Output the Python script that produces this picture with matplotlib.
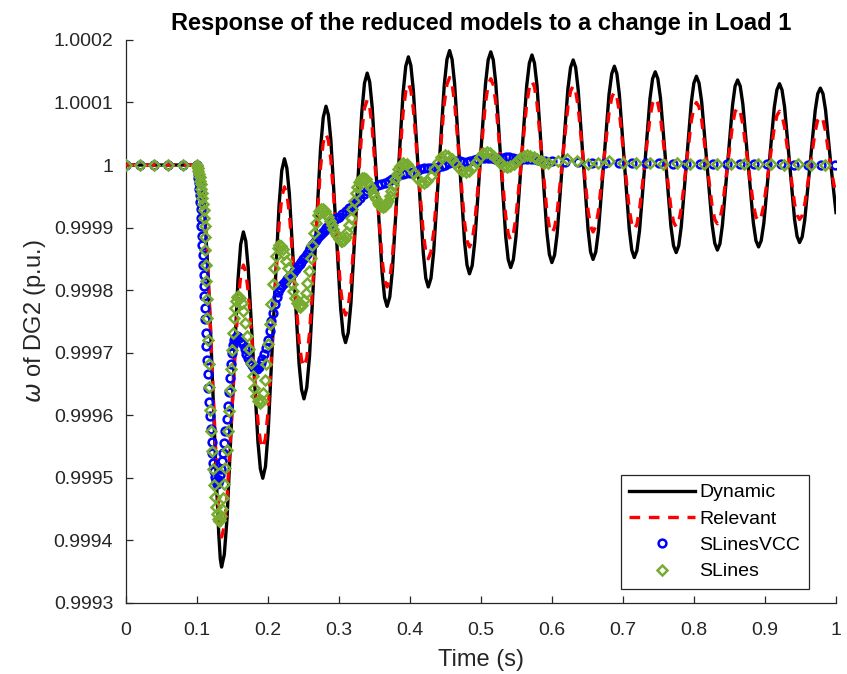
import matplotlib.pyplot as plt

plt.rcParams['font.family'] = ['Liberation Sans', 'DejaVu Sans']
plt.rcParams['mathtext.fontset'] = 'dejavusans'

# time grid shared by the two continuous curves
t_line = [
    0.0, 0.1, 0.1035, 0.108, 0.1114, 0.1155, 0.1193, 0.123, 0.1271, 0.131, 0.1332, 0.135,
    0.1388, 0.1427, 0.1504, 0.158, 0.1619, 0.1657,
    0.1691, 0.1725, 0.1794, 0.1862, 0.1896, 0.193,
    0.1968, 0.2006, 0.2083, 0.2159, 0.2197, 0.2235,
    0.2269, 0.2304, 0.2373, 0.2441, 0.2476, 0.251,
    0.2549, 0.2588, 0.2665, 0.2743, 0.2781, 0.282,
    0.2854, 0.2889, 0.2958, 0.3026, 0.3061, 0.3095,
    0.3133, 0.3171, 0.3248, 0.3324, 0.3362, 0.340,
    0.3435, 0.347, 0.354, 0.361, 0.3645, 0.368,
    0.3718, 0.3755, 0.383, 0.3905, 0.3943, 0.398,
    0.4015, 0.405, 0.412, 0.419, 0.4225, 0.426,
    0.4298, 0.4335, 0.441, 0.4485, 0.4523, 0.456,
    0.4595, 0.463, 0.470, 0.477, 0.4805, 0.484,
    0.4878, 0.4915, 0.499, 0.5065, 0.5103, 0.514,
    0.5175, 0.521, 0.528, 0.535, 0.5385, 0.542,
    0.5458, 0.5495, 0.557, 0.5645, 0.5683, 0.572,
    0.5755, 0.579, 0.586, 0.593, 0.5965, 0.600,
    0.6038, 0.6075, 0.615, 0.6225, 0.6263, 0.630,
    0.6335, 0.637, 0.644, 0.651, 0.6545, 0.658,
    0.6618, 0.6655, 0.673, 0.6805, 0.6843, 0.688,
    0.6915, 0.695, 0.702, 0.709, 0.7125, 0.716,
    0.7197, 0.7234, 0.7308, 0.7381, 0.7418, 0.7455,
    0.7492, 0.7529, 0.7603, 0.7676, 0.7713, 0.775,
    0.7786, 0.7821, 0.7893, 0.7964, 0.7999, 0.8035,
    0.8072, 0.8109, 0.8183, 0.8256, 0.8293, 0.833,
    0.8366, 0.8401, 0.8473, 0.8544, 0.8579, 0.8615,
    0.8652, 0.8689, 0.8763, 0.8836, 0.8873, 0.891,
    0.8947, 0.8984, 0.9058, 0.9131, 0.9168, 0.9205,
    0.924, 0.9276, 0.9346, 0.9417, 0.9452, 0.9487,
    0.9524, 0.956, 0.9634, 0.9707, 0.9743, 0.978,
    0.9817, 0.9853, 0.9926, 1.0,
]

w_dynamic = [
    1.0, 1.0, 1.0, 0.99998, 0.99992, 0.999835, 0.99974, 0.99963, 0.99951, 0.99941, 0.99937, 0.999357,
    0.999377, 0.999435, 0.999625, 0.999815, 0.999873, 0.999893,
    0.999878, 0.999835, 0.999696, 0.999557, 0.999514, 0.999499,
    0.999518, 0.999574, 0.999754, 0.999935, 0.999991, 1.00001,
    0.999995, 0.999954, 0.999818, 0.999682, 0.999641, 0.999626,
    0.999644, 0.999694, 0.99986, 1.000026, 1.000076, 1.000094,
    1.00008, 1.000039, 0.999905, 0.999771, 0.99973, 0.999716,
    0.999732, 0.999779, 0.999931, 1.000084, 1.000131, 1.000147,
    1.000133, 1.000093, 0.99996, 0.999828, 0.999788, 0.999774,
    0.999789, 0.999832, 0.999973, 1.000115, 1.000158, 1.000173,
    1.000159, 1.000119, 0.999989, 0.999859, 0.999819, 0.999805,
    0.999819, 0.99986, 0.999994, 1.000128, 1.000169, 1.000183,
    1.000169, 1.000131, 1.000004, 0.999878, 0.99984, 0.999826,
    0.999839, 0.999878, 1.000004, 1.000129, 1.000168, 1.000181,
    1.000168, 1.000131, 1.000008, 0.999886, 0.999849, 0.999836,
    0.999849, 0.999886, 1.000006, 1.000126, 1.000163, 1.000176,
    1.000163, 1.000128, 1.00001, 0.999892, 0.999857, 0.999844,
    0.999856, 0.999891, 1.000006, 1.000121, 1.000156, 1.000168,
    1.000156, 1.000121, 1.000008, 0.999896, 0.999861, 0.999849,
    0.999861, 0.999894, 1.000004, 1.000113, 1.000146, 1.000158,
    1.000146, 1.000113, 1.000005, 0.999897, 0.999864, 0.999852,
    0.999863, 0.999895, 1.0, 1.000106, 1.000138, 1.000149,
    1.000138, 1.000107, 1.000004, 0.999902, 0.999871, 0.99986,
    0.999871, 0.999901, 1.000001, 1.000101, 1.000131, 1.000142,
    1.000131, 1.000101, 1.000003, 0.999905, 0.999875, 0.999864,
    0.999874, 0.999904, 1.0, 1.000096, 1.000126, 1.000136,
    1.000126, 1.000097, 1.000002, 0.999908, 0.999879, 0.999869,
    0.999879, 0.999907, 1.0, 1.000092, 1.00012, 1.00013,
    1.00012, 1.000093, 1.000003, 0.999913, 0.999886, 0.999876,
    0.999885, 0.999912, 1.0, 1.000087, 1.000114, 1.000123,
    1.000114, 1.000088, 1.000002, 0.999924,
]

w_relevant = [
    1.0, 1.0, 1.0, 0.99998, 0.99992, 0.999835, 0.999742, 0.99964, 0.999535, 0.99945, 0.999418, 0.999405,
    0.999422, 0.999469, 0.999622, 0.999776, 0.999823, 0.99984,
    0.999829, 0.999797, 0.999694, 0.99959, 0.999558, 0.999547,
    0.999563, 0.999608, 0.999756, 0.999904, 0.999949, 0.999965,
    0.999954, 0.999923, 0.999821, 0.999719, 0.999688, 0.999677,
    0.999691, 0.999731, 0.999863, 0.999996, 1.000036, 1.00005,
    1.000039, 1.000008, 0.999905, 0.999802, 0.999771, 0.99976,
    0.999773, 0.99981, 0.999932, 1.000054, 1.000091, 1.000104,
    1.000093, 1.00006, 0.999954, 0.999849, 0.999816, 0.999805,
    0.999817, 0.999852, 0.999968, 1.000083, 1.000118, 1.00013,
    1.000119, 1.000089, 0.99999, 0.999891, 0.999861, 0.99985,
    0.999861, 0.999892, 0.999995, 1.000098, 1.000129, 1.00014,
    1.00013, 1.0001, 1.000004, 0.999909, 0.999879, 0.999869,
    0.999879, 0.999908, 1.000004, 1.000099, 1.000128, 1.000138,
    1.000128, 1.0001, 1.000009, 0.999918, 0.99989, 0.99988,
    0.99989, 0.999917, 1.000007, 1.000097, 1.000124, 1.000134,
    1.000125, 1.000099, 1.000012, 0.999926, 0.9999, 0.999891,
    0.9999, 0.999925, 1.000009, 1.000093, 1.000118, 1.000127,
    1.000118, 1.000093, 1.00001, 0.999927, 0.999902, 0.999893,
    0.999902, 0.999926, 1.000005, 1.000084, 1.000108, 1.000117,
    1.000109, 1.000085, 1.000007, 0.999929, 0.999905, 0.999897,
    0.999905, 0.999928, 1.000002, 1.000076, 1.000099, 1.000107,
    1.000099, 1.000077, 1.000004, 0.999931, 0.999909, 0.999901,
    0.999909, 0.99993, 1.0, 1.000071, 1.000092, 1.0001,
    1.000093, 1.000072, 1.000003, 0.999934, 0.999913, 0.999906,
    0.999913, 0.999933, 0.999999, 1.000065, 1.000085, 1.000092,
    1.000085, 1.000065, 1.000001, 0.999937, 0.999917, 0.99991,
    0.999917, 0.999936, 0.999998, 1.00006, 1.000079, 1.000086,
    1.000079, 1.000061, 1.0, 0.999938, 0.99992, 0.999913,
    0.999919, 0.999937, 0.999996, 1.000054, 1.000072, 1.000078,
    1.000072, 1.000054, 0.999996, 0.999952,
]

# solver output points of the reduced models (time, omega)
slinesvcc_pts = [
    (0.0, 1.0), (0.02, 1.0), (0.04, 1.0), (0.06, 1.0), (0.08, 1.0),
    (0.1, 1.0), (0.1006, 0.999997), (0.1012, 0.999992), (0.1018, 0.999986),
    (0.1024, 0.999979), (0.103, 0.999971), (0.1036, 0.999962), (0.1042, 0.999952),
    (0.1048, 0.999941), (0.1054, 0.999929), (0.106, 0.999916), (0.1066, 0.999902),
    (0.1072, 0.999887), (0.1078, 0.999872), (0.1084, 0.999856), (0.109, 0.99984),
    (0.1096, 0.999824), (0.1102, 0.999807), (0.1108, 0.99979), (0.1114, 0.999772),
    (0.112, 0.999754), (0.1128, 0.999732), (0.1136, 0.99971), (0.1145, 0.999688),
    (0.1155, 0.999665), (0.1165, 0.999643), (0.1175, 0.999621), (0.1186, 0.999599),
    (0.1198, 0.999577), (0.121, 0.999557), (0.1222, 0.999539), (0.1234, 0.999524),
    (0.1246, 0.999511), (0.1258, 0.999501), (0.127, 0.999494), (0.1285, 0.99949),
    (0.13, 0.999491), (0.1315, 0.999496), (0.133, 0.999504), (0.1345, 0.999514),
    (0.136, 0.999526), (0.1375, 0.99954), (0.139, 0.999556), (0.1405, 0.999574),
    (0.142, 0.999594), (0.1435, 0.999615), (0.145, 0.999637), (0.1465, 0.99966),
    (0.148, 0.999682), (0.1495, 0.9997), (0.151, 0.999712), (0.1525, 0.99972),
    (0.154, 0.999724), (0.156, 0.999726), (0.158, 0.999725),
    (0.16, 0.999724), (0.1625, 0.999719), (0.165, 0.999713), (0.1675, 0.999706),
    (0.17, 0.999698), (0.1725, 0.999691), (0.175, 0.999685), (0.1775, 0.99968),
    (0.18, 0.999676), (0.1825, 0.999674), (0.185, 0.999674), (0.1875, 0.999677),
    (0.19, 0.999683), (0.1925, 0.99969), (0.195, 0.999698), (0.1975, 0.999708),
    (0.2, 0.99972), (0.2025, 0.999734), (0.205, 0.99975), (0.2075, 0.999764),
    (0.21, 0.999778), (0.2125, 0.999789), (0.215, 0.999797), (0.2175, 0.999803),
    (0.22, 0.999808), (0.2225, 0.999812), (0.225, 0.999815), (0.2275, 0.999818),
    (0.23, 0.999821), (0.2325, 0.999824), (0.235, 0.999827), (0.2375, 0.99983),
    (0.24, 0.999834), (0.2425, 0.999838), (0.245, 0.999842), (0.2475, 0.999845),
    (0.25, 0.999849), (0.2525, 0.999853), (0.255, 0.999857), (0.2575, 0.999862),
    (0.26, 0.999867), (0.2625, 0.999872), (0.265, 0.999876), (0.2675, 0.99988),
    (0.27, 0.999884), (0.2725, 0.999887), (0.275, 0.99989), (0.2775, 0.999893),
    (0.28, 0.999896), (0.2825, 0.999899), (0.285, 0.999902), (0.2875, 0.999905),
    (0.29, 0.999908), (0.2925, 0.999911), (0.295, 0.999913), (0.2975, 0.999915),
    (0.3, 0.999917), (0.305, 0.999921), (0.31, 0.999926), (0.315, 0.999931),
    (0.32, 0.999936), (0.325, 0.999942), (0.33, 0.999948), (0.335, 0.999953),
    (0.34, 0.999958), (0.345, 0.999962), (0.35, 0.999965), (0.355, 0.999968),
    (0.36, 0.99997), (0.365, 0.999972), (0.37, 0.999975), (0.375, 0.999978),
    (0.38, 0.999981), (0.385, 0.999984), (0.39, 0.999986), (0.395, 0.999987),
    (0.4, 0.999988), (0.405, 0.999989), (0.41, 0.999991), (0.415, 0.999993),
    (0.42, 0.999995), (0.425, 0.999996), (0.43, 0.999996), (0.435, 0.999996),
    (0.44, 0.999997), (0.445, 0.999998), (0.45, 1.0), (0.455, 1.000003),
    (0.46, 1.000005), (0.465, 1.000006), (0.47, 1.000006), (0.475, 1.000005),
    (0.48, 1.000005), (0.485, 1.000006), (0.49, 1.000008), (0.495, 1.00001),
    (0.5, 1.000011), (0.505, 1.000012), (0.51, 1.000012), (0.515, 1.000011),
    (0.52, 1.00001), (0.525, 1.000011), (0.53, 1.000012), (0.535, 1.000013),
    (0.54, 1.000013), (0.545, 1.000012), (0.55, 1.00001), (0.555, 1.000009),
    (0.56, 1.000009), (0.565, 1.00001), (0.57, 1.00001), (0.575, 1.000009),
    (0.58, 1.000008), (0.59, 1.000007), (0.6, 1.000006),
    (0.618, 1.000005), (0.637, 1.000005), (0.656, 1.000004), (0.675, 1.000004),
    (0.694, 1.000004), (0.713, 1.000003), (0.732, 1.000003), (0.751, 1.000003),
    (0.77, 1.000002), (0.789, 1.000002), (0.808, 1.000002), (0.827, 1.000002),
    (0.846, 1.000001), (0.865, 1.000001), (0.884, 1.000001), (0.903, 1.000001),
    (0.922, 1.000001), (0.941, 1.0), (0.96, 1.0), (0.979, 1.0), (0.998, 1.0),
]

slines_pts = [
    (0.0, 1.0), (0.02, 1.0), (0.04, 1.0), (0.06, 1.0), (0.08, 1.0),
    (0.1, 1.0), (0.1008, 0.999998), (0.1016, 0.999995), (0.1024, 0.999991),
    (0.1032, 0.999986), (0.104, 0.999981), (0.1048, 0.999975), (0.1056, 0.999969),
    (0.1064, 0.999962), (0.1072, 0.999955), (0.108, 0.999947), (0.1088, 0.999938),
    (0.1096, 0.999928), (0.1104, 0.999916), (0.111, 0.999902), (0.1116, 0.999885),
    (0.1122, 0.999864), (0.1128, 0.99984), (0.1134, 0.999814), (0.114, 0.999786),
    (0.1148, 0.999755), (0.1158, 0.99972), (0.1168, 0.999682), (0.1178, 0.999645),
    (0.119, 0.999608), (0.1202, 0.999575), (0.1215, 0.999542), (0.1228, 0.999514),
    (0.1242, 0.999489), (0.1256, 0.999469), (0.127, 0.999453), (0.1285, 0.999442),
    (0.13, 0.999434), (0.1315, 0.999431), (0.133, 0.999432), (0.1345, 0.999438),
    (0.136, 0.99945), (0.1375, 0.999468), (0.139, 0.99949), (0.1405, 0.999516),
    (0.142, 0.999545), (0.1435, 0.999575), (0.145, 0.999607), (0.1465, 0.99964),
    (0.148, 0.999673), (0.1495, 0.999704), (0.151, 0.999732), (0.1525, 0.999755),
    (0.154, 0.999772), (0.1555, 0.999783), (0.157, 0.999789), (0.158, 0.999791),
    (0.1606, 0.999788), (0.1632, 0.99978), (0.1657, 0.999766), (0.1683, 0.999748),
    (0.1709, 0.999727), (0.1735, 0.999705), (0.1761, 0.999683), (0.1787, 0.999662),
    (0.1812, 0.999644), (0.1838, 0.99963), (0.1864, 0.999622), (0.189, 0.999619),
    (0.1913, 0.999623), (0.1935, 0.999636), (0.1958, 0.999656), (0.198, 0.999682),
    (0.2003, 0.999713), (0.2025, 0.999746), (0.2048, 0.999778), (0.207, 0.999809),
    (0.2093, 0.999835), (0.2115, 0.999855), (0.2138, 0.999868), (0.216, 0.999872),
    (0.2185, 0.99987), (0.221, 0.999865), (0.2235, 0.999858), (0.226, 0.999847),
    (0.2285, 0.999835), (0.231, 0.999822), (0.2335, 0.99981), (0.236, 0.999798),
    (0.2385, 0.999788), (0.241, 0.99978), (0.2435, 0.999775), (0.246, 0.999773),
    (0.2484, 0.999776), (0.2508, 0.999784), (0.2533, 0.999796), (0.2557, 0.999812),
    (0.2581, 0.999831), (0.2605, 0.999852), (0.2629, 0.999872), (0.2653, 0.999891),
    (0.2678, 0.999907), (0.2702, 0.99992), (0.2726, 0.999927), (0.275, 0.99993),
    (0.2775, 0.999929), (0.28, 0.999927), (0.2825, 0.999922), (0.285, 0.999917),
    (0.2875, 0.999911), (0.29, 0.999904), (0.2925, 0.999897), (0.295, 0.999891),
    (0.2975, 0.999886), (0.3, 0.999882), (0.3025, 0.999879), (0.305, 0.999878),
    (0.3073, 0.99988), (0.3097, 0.999885), (0.312, 0.999893), (0.3143, 0.999904),
    (0.3167, 0.999916), (0.319, 0.999929), (0.3213, 0.999942), (0.3237, 0.999955),
    (0.326, 0.999965), (0.3283, 0.999973), (0.3307, 0.999978), (0.333, 0.99998),
    (0.3354, 0.999979), (0.3378, 0.999977), (0.3403, 0.999973), (0.3427, 0.999968),
    (0.3451, 0.999963), (0.3475, 0.999956), (0.3499, 0.99995), (0.3523, 0.999945),
    (0.3548, 0.99994), (0.3572, 0.999936), (0.3596, 0.999934), (0.362, 0.999933),
    (0.3644, 0.999934), (0.3668, 0.999938), (0.3693, 0.999943), (0.3717, 0.99995),
    (0.3741, 0.999959), (0.3765, 0.999968), (0.3789, 0.999977), (0.3813, 0.999985),
    (0.3838, 0.999993), (0.3862, 0.999998), (0.3886, 1.000002), (0.391, 1.000003),
    (0.3958, 1.000001), (0.4007, 0.999995), (0.4055, 0.999987), (0.4103, 0.999979),
    (0.4152, 0.999973), (0.42, 0.999971),
    (0.4248, 0.999974), (0.4297, 0.999982), (0.4345, 0.999993), (0.4393, 1.000005),
    (0.4442, 1.000013), (0.449, 1.000016),
    (0.454, 1.000014), (0.459, 1.000009), (0.464, 1.000003), (0.469, 0.999996),
    (0.474, 0.999991), (0.479, 0.999989),
    (0.4838, 0.999991), (0.4887, 0.999997), (0.4935, 1.000005), (0.4983, 1.000013),
    (0.5032, 1.000019), (0.508, 1.000021),
    (0.5128, 1.000019), (0.5177, 1.000015), (0.5225, 1.000009), (0.5273, 1.000003),
    (0.5322, 0.999999), (0.537, 0.999997),
    (0.5417, 0.999998), (0.5463, 1.000002), (0.551, 1.000007), (0.5557, 1.000011),
    (0.5603, 1.000015), (0.565, 1.000016),
    (0.5698, 1.000015), (0.5747, 1.000013), (0.5795, 1.00001), (0.5843, 1.000006),
    (0.5892, 1.000004), (0.594, 1.000003),
    (0.608, 1.000006), (0.622, 1.00001), (0.636, 1.000006), (0.651, 1.000002),
    (0.665, 1.000004), (0.68, 1.000007), (0.6995, 1.000004), (0.7185, 1.000003),
    (0.7375, 1.000004), (0.7565, 1.000002), (0.7755, 1.000003), (0.7945, 1.000002),
    (0.8135, 1.000002), (0.8325, 1.000001), (0.8515, 1.000002), (0.8705, 1.000001),
    (0.8895, 1.000001), (0.9085, 1.000001), (0.9275, 1.0), (0.9465, 1.000001),
    (0.9655, 1.0), (0.9845, 1.0),
]

x_ticks = [0, 0.1, 0.2, 0.3, 0.4, 0.5, 0.6, 0.7, 0.8, 0.9, 1]
x_labels = ['0', '0.1', '0.2', '0.3', '0.4', '0.5', '0.6', '0.7', '0.8', '0.9', '1']
y_ticks = [0.9993, 0.9994, 0.9995, 0.9996, 0.9997, 0.9998, 0.9999, 1.0, 1.0001, 1.0002]
y_labels = ['0.9993', '0.9994', '0.9995', '0.9996', '0.9997', '0.9998', '0.9999',
            '1', '1.0001', '1.0002']

axis_col = '0.15'
green = '#77AC30'

fig = plt.figure(figsize=(8.47, 6.74), dpi=100)
ax = fig.add_axes([0.1484, 0.1058, 0.8386, 0.8349])

ax.plot(t_line, w_dynamic, color='black', lw=2.4, label='Dynamic', zorder=2,
        solid_joinstyle='round')
ax.plot(t_line, w_relevant, color='#FF0000', lw=2.4, ls=(0, (3.2, 2.6)),
        label='Relevant', zorder=3)

vcc_t = [p[0] for p in slinesvcc_pts]
vcc_w = [p[1] for p in slinesvcc_pts]
sl_t = [p[0] for p in slines_pts]
sl_w = [p[1] for p in slines_pts]

ax.plot(vcc_t, vcc_w, ls='none', marker='o', ms=5.6, mew=1.8, mfc='none',
        mec='#0000FF', label='SLinesVCC', zorder=4)
ax.plot(sl_t, sl_w, ls='none', marker='D', ms=5.0, mew=1.8, mfc='none',
        mec=green, label='SLines', zorder=5)

ax.set_xlim(0, 1)
ax.set_ylim(0.9993, 1.0002)
ax.set_xticks(x_ticks)
ax.set_xticklabels(x_labels)
ax.set_yticks(y_ticks)
ax.set_yticklabels(y_labels)

for s in ['top', 'right']:
    ax.spines[s].set_visible(False)
for s in ['left', 'bottom']:
    ax.spines[s].set_color(axis_col)
    ax.spines[s].set_linewidth(0.9)
ax.tick_params(direction='in', length=5, width=0.9, colors=axis_col,
               labelsize=14, top=False, right=False)
ax.tick_params(axis='y', pad=9)
ax.tick_params(axis='x', pad=14)

ax.set_title('Response of the reduced models to a change in Load 1',
             fontsize=17, fontweight='bold', color='black', pad=7)
ax.set_xlabel('Time (s)', fontsize=17, color=axis_col, labelpad=7)
ax.set_ylabel(r'$\omega$ of DG2 (p.u.)', fontsize=17, color=axis_col, labelpad=4)

leg = ax.legend(loc='lower right', bbox_to_anchor=(0.962, 0.024), borderaxespad=0,
                fontsize=14, fancybox=False, framealpha=1, edgecolor=axis_col,
                handlelength=3.4, handletextpad=0.2, borderpad=0.45, labelspacing=0.45)
leg.get_frame().set_linewidth(0.9)

fig.savefig('out.png', dpi=100)
